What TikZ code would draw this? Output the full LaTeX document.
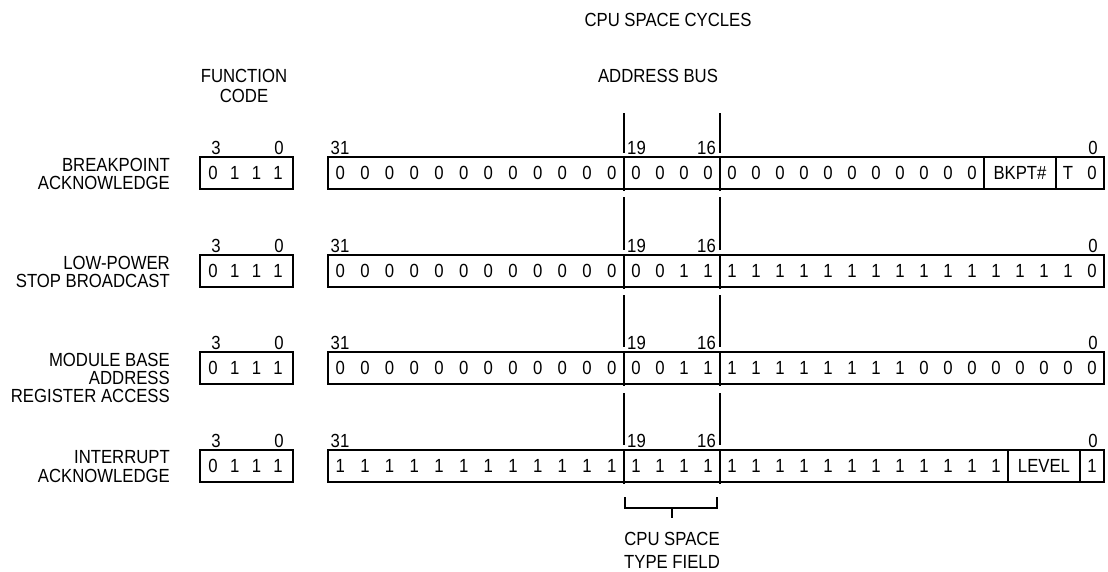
\documentclass[tikz,border=0pt]{standalone}
\usepackage{fontspec}
\setmainfont{Liberation Sans}[FakeStretch=0.88]
\begin{document}
\begin{tikzpicture}[x=1pt,y=-1pt,
  txt/.style={font=\fontsize{19}{18}\selectfont, inner sep=0pt, text height=13.6pt, text depth=0pt},
  bitbox/.style={draw, line width=1.2pt, inner sep=0pt, minimum height=32pt},
  rule/.style={line width=1.2pt}]
\useasboundingbox (0,0) rectangle (1108,571);
% titles
\node[txt] (title) at (668,20) {CPU SPACE CYCLES};
\node[txt] (fcA) at (244,76) {FUNCTION};
\node[txt] (fcB) at (244,96) {CODE};
\node[txt] (abus) at (658,76) {ADDRESS BUS};
% row labels
\node[txt, anchor=east] (l1a) at (170,165) {BREAKPOINT};
\node[txt, anchor=east] (l1b) at (170,183) {ACKNOWLEDGE};
\node[txt, anchor=east] (l2a) at (170,263) {LOW-POWER};
\node[txt, anchor=east] (l2b) at (170,281) {STOP BROADCAST};
\node[txt, anchor=east] (l3a) at (170,360) {MODULE BASE};
\node[txt, anchor=east] (l3b) at (170,378) {ADDRESS};
\node[txt, anchor=east] (l3c) at (170,396) {REGISTER ACCESS};
\node[txt, anchor=east] (l4a) at (170,457) {INTERRUPT};
\node[txt, anchor=east] (l4b) at (170,476) {ACKNOWLEDGE};
% rows: id / center y
\foreach \r/\y in {1/173,2/271,3/368,4/466} {
  \node[bitbox, minimum width=93pt] (fc\r) at (246.5,\y) {};
  \foreach \d [count=\i from 0] in {0,1,1,1}
    \node[txt] (fc\r d\i) at (213+21.7*\i,\y) {\d};
  \node[txt] (fc\r hi) at (216,\y-25) {3};
  \node[txt] (fc\r lo) at (279,\y-25) {0};
  \node[bitbox, minimum width=776pt] (ab\r) at (716,\y) {};
  \node[txt] (ab\r b31) at (340,\y-25) {31};
  \node[txt, anchor=west] (ab\r b19) at (627,\y-25) {19};
  \node[txt, anchor=east] (ab\r b16) at (716,\y-25) {16};
  \node[txt] (ab\r b0) at (1093,\y-25) {0};
  % dividers inside box
  \coordinate (dA\r t) at (624,\y-16);
  \coordinate (dA\r b) at (624,\y+18);
  \coordinate (dB\r t) at (720,\y-16);
  \coordinate (dB\r b) at (720,\y+18);
  \draw[rule] (dA\r t) -- (dA\r b);
  \draw[rule] (dB\r t) -- (dB\r b);
}
% high bits 31..20
\foreach \r/\y/\v in {1/173/0,2/271/0,3/368/0,4/466/1}
  \foreach \i in {0,...,11}
    \node[txt] (h\r-\i) at (340.3+24.67*\i,\y) {\v};
% mid bits 19..16
\foreach \d [count=\i from 0] in {0,0,0,0} \node[txt] (m1-\i) at (636+24*\i,173) {\d};
\foreach \d [count=\i from 0] in {0,0,1,1} \node[txt] (m2-\i) at (636+24*\i,271) {\d};
\foreach \d [count=\i from 0] in {0,0,1,1} \node[txt] (m3-\i) at (636+24*\i,368) {\d};
\foreach \d [count=\i from 0] in {1,1,1,1} \node[txt] (m4-\i) at (636+24*\i,466) {\d};
% low bits 15..0
\foreach \d [count=\i from 0] in {0,0,0,0,0,0,0,0,0,0,0} \node[txt] (w1-\i) at (732+24*\i,173) {\d};
\node[txt] (bkpt) at (1020,173) {BKPT\#};
\node[txt] (tbit) at (1068,173) {T};
\node[txt] (z1) at (1092,173) {0};
\coordinate (k1t) at (984,157); \coordinate (k1b) at (984,189);
\coordinate (k2t) at (1056,157); \coordinate (k2b) at (1056,189);
\draw[rule] (k1t) -- (k1b);
\draw[rule] (k2t) -- (k2b);
\foreach \d [count=\i from 0] in {1,1,1,1,1,1,1,1,1,1,1,1,1,1,1,0} \node[txt] (w2-\i) at (732+24*\i,271) {\d};
\foreach \d [count=\i from 0] in {1,1,1,1,1,1,1,1,0,0,0,0,0,0,0,0} \node[txt] (w3-\i) at (732+24*\i,368) {\d};
\foreach \d [count=\i from 0] in {1,1,1,1,1,1,1,1,1,1,1,1} \node[txt] (w4-\i) at (732+24*\i,466) {\d};
\node[txt] (level) at (1044,466) {LEVEL};
\node[txt] (z4) at (1092,466) {1};
\coordinate (k3t) at (1008,450); \coordinate (k3b) at (1008,482);
\coordinate (k4t) at (1080,450); \coordinate (k4b) at (1080,482);
\draw[rule] (k3t) -- (k3b);
\draw[rule] (k4t) -- (k4b);
% guide segments above each row
\foreach \x in {624,720} {
  \coordinate (g1\x a) at (\x,113); \coordinate (g1\x b) at (\x,153);
  \coordinate (g2\x a) at (\x,197); \coordinate (g2\x b) at (\x,250);
  \coordinate (g3\x a) at (\x,295); \coordinate (g3\x b) at (\x,347);
  \coordinate (g4\x a) at (\x,393); \coordinate (g4\x b) at (\x,445);
  \draw[rule] (g1\x a) -- (g1\x b);
  \draw[rule] (g2\x a) -- (g2\x b);
  \draw[rule] (g3\x a) -- (g3\x b);
  \draw[rule] (g4\x a) -- (g4\x b);
}
% bracket
\coordinate (brL) at (625,497); \coordinate (brR) at (717,497);
\coordinate (brM) at (672,508); \coordinate (brT) at (672,518);
\draw[rule] (brL) -- (625,508) -- (717,508) -- (brR);
\draw[rule] (brM) -- (brT);
\node[txt] (cst1) at (672,539) {CPU SPACE};
\node[txt] (cst2) at (672,562) {TYPE FIELD};
\end{tikzpicture}
\end{document}
